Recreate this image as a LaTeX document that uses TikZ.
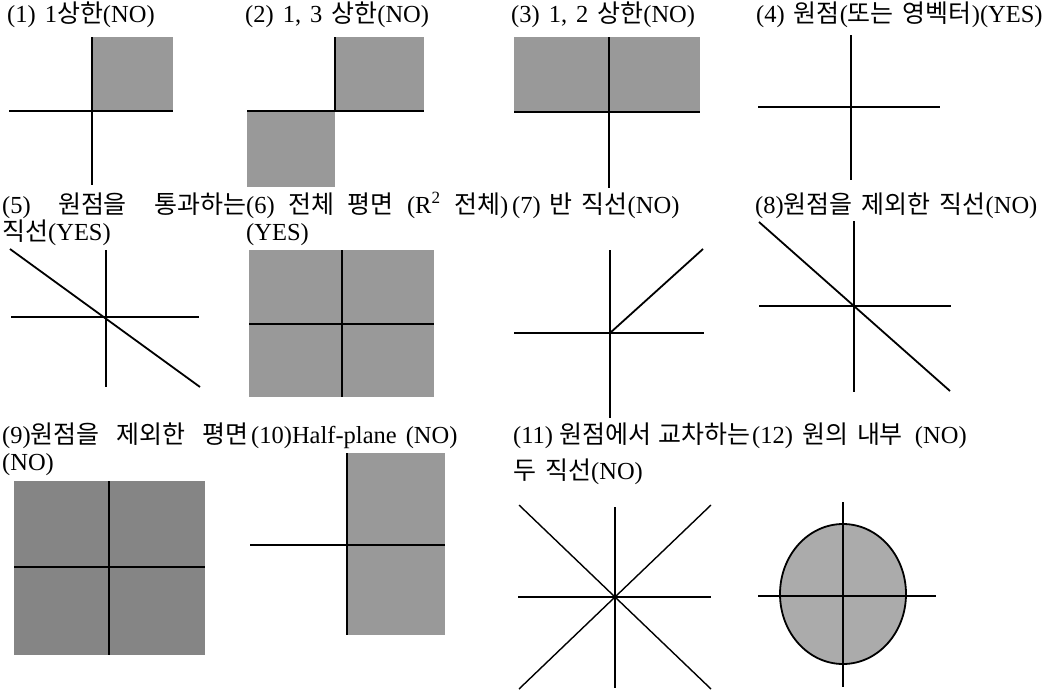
\documentclass[tikz,border=0pt]{standalone}
\usepackage{fontspec}
\setmainfont{Liberation Serif}
\newfontfamily\kr{Noto Sans CJK KR}[Scale=1.02]
\newcommand\K[1]{{\kr #1}}
\newcommand\lblfont{\fontsize{24.5}{26}\selectfont\spaceskip 9pt plus 4pt minus 3pt\relax}
\begin{document}
\begin{tikzpicture}[x=1pt,y=-1pt,
  lbl/.style={anchor=base west, inner sep=0pt, font=\lblfont},
  thinln/.style={line width=1.4pt},
  midln/.style={line width=1.8pt},
  thickln/.style={line width=2.7pt},
  shade/.style={fill=black!40},
  darkshade/.style={fill=black!48},
  lightshade/.style={fill=black!33}]
\useasboundingbox (0,0) rectangle (1062,691);
% ---------- labels ----------
\node[lbl] (l1) at (7,22) {(1) 1\K{상한}(NO)};
\node[lbl] (l2) at (245,22) {(2) 1, 3 \K{상한}(NO)};
\node[lbl] (l3) at (511,22) {(3) 1, 2 \K{상한}(NO)};
\node[lbl] (l4) at (756,22) {(4) \K{원점}(\K{또는} \K{영벡터})(YES)};
\node[lbl] (l5a) at (2,213) {\makebox[244pt][s]{(5) \K{원점을} \K{통과하는}}};
\node[lbl] (l5b) at (2,240) {\K{직선}(YES)};
\node[lbl] (l6a) at (246,213) {\makebox[262pt][s]{(6) \K{전체} \K{평면} (R\textsuperscript{2} \K{전체})}};
\node[lbl] (l6b) at (246,240) {(YES)};
\node[lbl] (l7) at (512,213) {(7) \K{반} \K{직선}(NO)};
\node[lbl] (l8) at (755,213) {(8)\K{원점을} \K{제외한} \K{직선}(NO)};
\node[lbl] (l9a) at (2,443) {\makebox[246pt][s]{(9)\K{원점을} \K{제외한} \K{평면}}};
\node[lbl] (l9b) at (2,470) {(NO)};
\node[lbl] (l10) at (251,443) {(10)Half-plane (NO)};
\node[lbl] (l11a) at (513,443) {\makebox[237pt][s]{(11) \K{원점에서} \K{교차하는}}};
\node[lbl] (l11b) at (513,479) {\K{두} \K{직선}(NO)};
\node[lbl] (l12) at (752,443) {(12) \K{원의} \K{내부}\hspace{12pt}(NO)};
% ---------- (1) ----------
\fill[shade] (92,37) rectangle (173,111);
\draw[thickln] (92,37) -- (92,111) -- (173,111);
\draw[thinln] (9,111) -- (92,111);
\draw[thinln] (92,111) -- (92,185);
% ---------- (2) ----------
\fill[shade] (335,37) rectangle (424,111);
\fill[shade] (247,111) rectangle (335,187);
\draw[thickln] (247,111) -- (424,111);
\draw[thickln] (335,37) -- (335,111);
% ---------- (3) ----------
\fill[shade] (514,37) rectangle (700,112);
\draw[thickln] (514,112) -- (700,112);
\draw[thickln] (609,37) -- (609,112);
\draw[thinln] (609,112) -- (609,188);
% ---------- (4) ----------
\draw[thinln] (758,107) -- (940,107);
\draw[thinln] (851,35) -- (851,180);
% ---------- (5) ----------
\draw[thinln] (106,250) -- (106,387);
\draw[midln] (11,317) -- (199,317);
\draw[midln] (10,249) -- (200,387);
% ---------- (6) ----------
\fill[shade] (249,250) rectangle (434,397);
\draw[thickln] (342,250) -- (342,397);
\draw[thickln] (249,324) -- (434,324);
% ---------- (7) ----------
\draw[thinln] (610,250) -- (610,418);
\draw[midln] (514,333) -- (704,333);
\draw[midln] (610,333) -- (703,249);
% ---------- (8) ----------
\draw[thinln] (854,221) -- (854,392);
\draw[midln] (759,306) -- (951,306);
\draw[midln] (759,222) -- (950,391);
% ---------- (9) ----------
\fill[darkshade] (14,481) rectangle (205,655);
\draw[thickln] (109,481) -- (109,655);
\draw[thickln] (14,567) -- (205,567);
% ---------- (10) ----------
\fill[shade] (347,453) rectangle (445,635);
\draw[thickln] (347,453) -- (347,635);
\draw[midln] (250,545) -- (445,545);
% ---------- (11) ----------
\draw[thinln] (615,507) -- (615,688);
\draw[thinln] (518,597) -- (711,597);
\draw[thinln] (519,505) -- (711,689);
\draw[thinln] (519,689) -- (711,505);
% ---------- (12) ----------
\filldraw[lightshade, draw=black, line width=1.8pt] (843,594) ellipse [x radius=63, y radius=70];
\draw[midln] (843,502) -- (843,687);
\draw[midln] (758,596) -- (936,596);
\end{tikzpicture}
\end{document}
